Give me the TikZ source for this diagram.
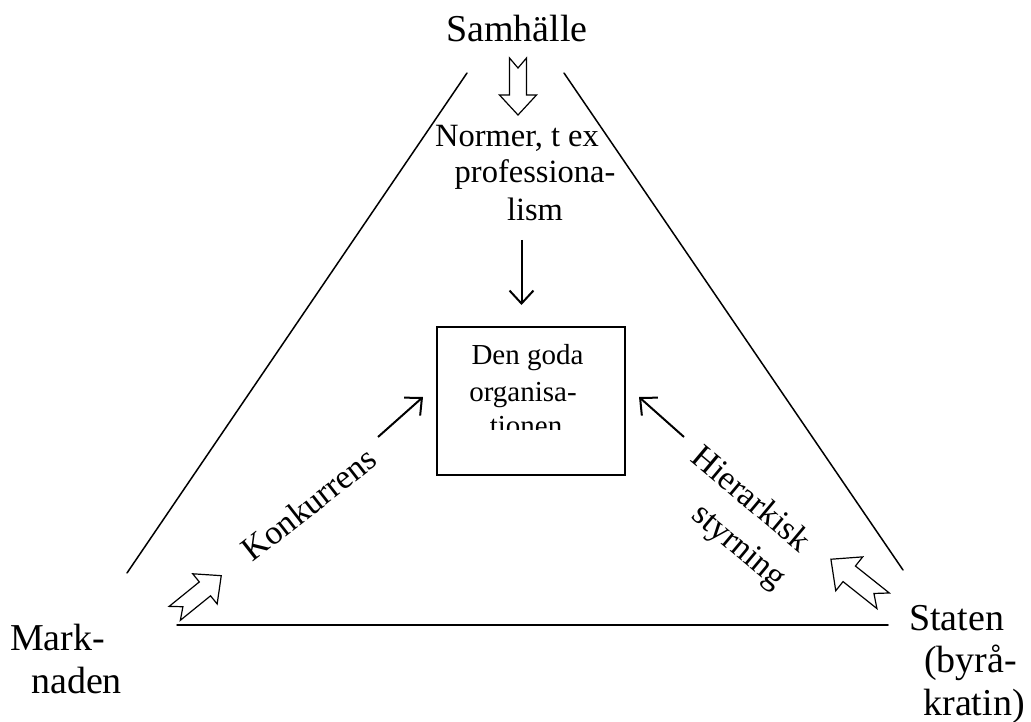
\documentclass[tikz,border=0pt]{standalone}
\usepackage{fontspec}
\setmainfont{Liberation Serif}
\usetikzlibrary{arrows.meta}
\tikzset{
  side/.style={line width=1.5pt, line cap=round},
  hollowline/.style={line width=1.2pt, line join=miter, fill=white},
  thinarrow/.style={line width=2pt, -{Straight Barb[length=13pt,width=24pt,line width=2pt]}},
  biglabel/.style={font=\fontsize{38}{43}\selectfont, anchor=base, inner sep=0pt},
  midlabel/.style={font=\fontsize{32.5}{37}\selectfont, anchor=base, inner sep=0pt},
  rotlabel/.style={font=\fontsize{34}{40}\selectfont, inner sep=0pt},
  boxtext/.style={font=\fontsize{29}{37}\selectfont, anchor=base, inner sep=0pt},
  orgbox/.style={draw, line width=1.5pt, minimum width=188pt, minimum height=148pt, inner sep=0pt},
  hollow/.pic={\draw[hollowline] (-28.5,-8.5) -- (8.5,-8.5) -- (8.5,-18.5) -- (28.5,0) -- (8.5,18.5) -- (8.5,8.5) -- (-28.5,8.5) -- (-18.5,0) -- cycle;}
}
\begin{document}
\begin{tikzpicture}[x=1pt,y=-1pt]
\useasboundingbox (0,0) rectangle (1031,722);
% triangle
\coordinate (lt) at (467,73);
\coordinate (lb) at (127,573);
\coordinate (rt) at (564,73);
\coordinate (rb) at (903,570);
\coordinate (bl) at (177,625);
\coordinate (br) at (888,625);
\draw[side] (lt) -- (lb);
\draw[side] (rt) -- (rb);
\draw[side] (bl) -- (br);
% labels
\node[biglabel] (samh) at (517,42) {Samhälle};
\node[midlabel] (norm1) at (517,147) {Normer, t ex};
\node[midlabel] (norm2) at (535,183) {professiona-};
\node[midlabel] (norm3) at (535,221) {lism};
\node[biglabel] (mark1) at (57.5,650) {Mark-};
\node[biglabel] (mark2) at (76.5,693) {naden};
\node[biglabel] (stat1) at (956.5,630) {Staten};
\node[biglabel] (stat2) at (970.5,672) {(byrå-};
\node[biglabel] (stat3) at (974,715) {kratin)};
\node[rotlabel, rotate=38] (konk) at (309,504) {Konkurrens};
\node[rotlabel, rotate=-40] (hier1) at (752,498) {Hierarkisk};
\node[rotlabel, rotate=-40] (hier2) at (738,548) {styrning};
% box
\node[orgbox] (box) at (531,401) {};
\begin{scope}
\clip (437,327) rectangle (625,429);
\node[boxtext] (bt1) at (527.5,364) {Den goda};
\node[boxtext] (bt2) at (523,401) {organisa-};
\node[boxtext] (bt3) at (526,435) {tionen};
\end{scope}
% thin arrows
\coordinate (da1) at (521.5,240);
\coordinate (da2) at (521.5,305);
\draw[thinarrow] (da1) -- (da2);
\coordinate (la1) at (378,437);
\coordinate (la2) at (423,397);
\draw[thinarrow] (la1) -- (la2);
\coordinate (ra1) at (684,437);
\coordinate (ra2) at (639,397);
\draw[thinarrow] (ra1) -- (ra2);
% hollow arrows
\pic[rotate=-90] at (518,86.5) {hollow};
\pic[rotate=39, scale=1.05] at (198,594.5) {hollow};
\pic[rotate=141.5, scale=1.17] at (857,580) {hollow};
\end{tikzpicture}
\end{document}
